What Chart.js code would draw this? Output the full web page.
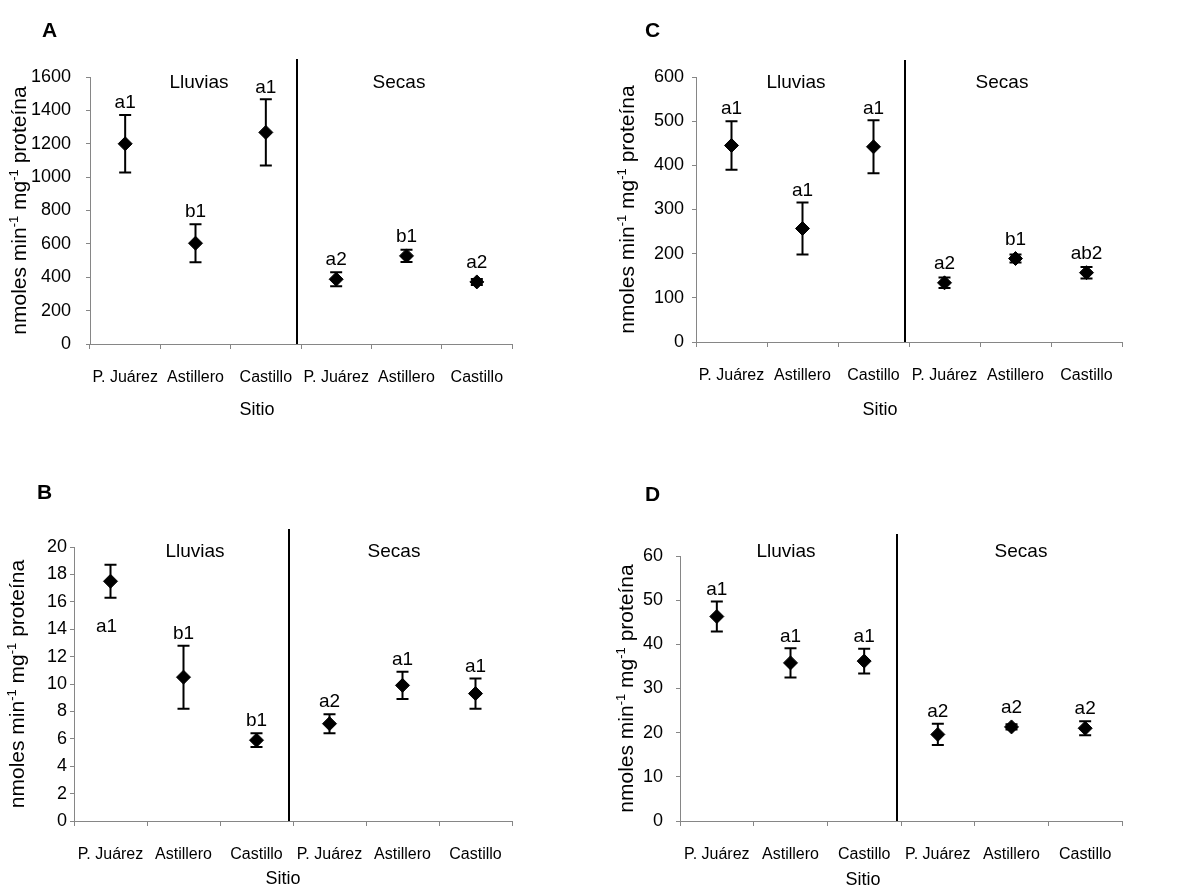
<!DOCTYPE html>
<html>
<head>
<meta charset="utf-8">
<script src="https://cdn.jsdelivr.net/npm/chart.js@4.4.0/dist/chart.umd.min.js"></script>
<style>
  body { margin: 0; background: #fff; }
  #wrap { position: relative; width: 1200px; height: 888px; }
  .panel { position: absolute; width: 600px; height: 444px; }
</style>
</head>
<body>
<div id="wrap">
  <div class="panel" style="left:0;top:0"><canvas id="cA" width="600" height="444"></canvas></div>
  <div class="panel" style="left:600px;top:0"><canvas id="cC" width="600" height="444"></canvas></div>
  <div class="panel" style="left:0;top:444px"><canvas id="cB" width="600" height="444"></canvas></div>
  <div class="panel" style="left:600px;top:444px"><canvas id="cD" width="600" height="444"></canvas></div>
</div>
<script>
const sitios = ['P. Juárez', 'Astillero', 'Castillo'];
const epocas = ['Lluvias', 'Secas'];

// panel A
const mediaA = [1200, 604, 1268, 388, 528, 372];
const errorA = [173, 114, 198, 42, 37, 18];
const letrasA = ['a1', 'b1', 'a1', 'a2', 'b1', 'a2'];
const ejeA = [1600, 200];

// panel B
const mediaB = [17.5, 10.5, 5.9, 7.1, 9.9, 9.3];
const errorB = [1.2, 2.3, 0.5, 0.7, 1.0, 1.1];
const letrasB = ['a1', 'b1', 'b1', 'a2', 'a1', 'a1'];
const ejeB = [20, 2];

// panel C
const mediaC = [445, 257, 442, 134, 189, 157];
const errorC = [55, 59, 60, 12, 9, 13];
const letrasC = ['a1', 'a1', 'a1', 'a2', 'b1', 'ab2'];
const ejeC = [600, 100];

// panel D
const mediaD = [46.3, 35.8, 36.2, 19.6, 21.3, 21.0];
const errorD = [3.4, 3.3, 2.8, 2.4, 0.6, 1.6];
const letrasD = ['a1', 'a1', 'a1', 'a2', 'a2', 'a2'];
const ejeD = [60, 10];

const fam = '"Liberation Sans", Arial, sans-serif';
const gris = '#868686';

const paneles = [
  { id: 'cA', letra: 'A', media: mediaA, error: errorA, letras: letrasA, eje: ejeA,
    area: { left: 90, top: 77, right: 512, bottom: 344 }, tickPad: 15, letraPos: [42, 31],
    sitio: [257, 410], tituloX: 20, epocaX: [199, 399], epocaY: 83, lineaTop: 18, abajo: [] },
  { id: 'cC', letra: 'C', media: mediaC, error: errorC, letras: letrasC, eje: ejeC,
    area: { left: 96, top: 77, right: 522, bottom: 342 }, tickPad: 8, letraPos: [45, 31],
    sitio: [280, 410], tituloX: 28, epocaX: [196, 402], epocaY: 83, lineaTop: 17, abajo: [] },
  { id: 'cB', letra: 'B', media: mediaB, error: errorB, letras: letrasB, eje: ejeB,
    area: { left: 74, top: 103, right: 512, bottom: 377 }, tickPad: 3, letraPos: [37, 49],
    sitio: [283, 435], tituloX: 18, epocaX: [195, 394], epocaY: 108, lineaTop: 18, abajo: [0] },
  { id: 'cD', letra: 'D', media: mediaD, error: errorD, letras: letrasD, eje: ejeD,
    area: { left: 80, top: 112, right: 522, bottom: 377 }, tickPad: 13, letraPos: [45, 51],
    sitio: [263, 436], tituloX: 27, epocaX: [186, 421], epocaY: 108, lineaTop: 22, abajo: [] }
];

function extras(p) {
  return {
    id: 'extras',
    beforeDatasetsDraw(chart) {
      const ctx = chart.ctx, x = chart.scales.x, y = chart.scales.y;
      ctx.save();
      ctx.strokeStyle = '#000';
      ctx.lineWidth = 2;
      p.media.forEach((v, i) => {
        const px = x.getPixelForValue(i);
        const hi = y.getPixelForValue(v + p.error[i]);
        const lo = y.getPixelForValue(v - p.error[i]);
        ctx.beginPath();
        ctx.moveTo(px, hi); ctx.lineTo(px, lo);
        ctx.moveTo(px - 6, hi); ctx.lineTo(px + 6, hi);
        ctx.moveTo(px - 6, lo); ctx.lineTo(px + 6, lo);
        ctx.stroke();
      });
      ctx.restore();
    },
    afterDatasetsDraw(chart) {
      const ctx = chart.ctx, x = chart.scales.x, y = chart.scales.y, ca = chart.chartArea;
      ctx.save();
      ctx.fillStyle = '#000';

      // letras de significancia
      ctx.font = '19px ' + fam;
      ctx.textAlign = 'center';
      ctx.textBaseline = 'middle';
      p.media.forEach((v, i) => {
        const px = x.getPixelForValue(i);
        const py = y.getPixelForValue(v);
        if (p.abajo.includes(i)) {
          const lo = Math.max(y.getPixelForValue(v - p.error[i]), py + 7);
          ctx.fillText(p.letras[i], px - 4, lo + 29);
        } else {
          const hi = Math.min(y.getPixelForValue(v + p.error[i]), py - 7);
          ctx.fillText(p.letras[i], px, hi - 12);
        }
      });

      // separador de epocas
      const xs = (x.getPixelForValue(2) + x.getPixelForValue(3)) / 2 - 4;
      ctx.strokeStyle = '#000';
      ctx.lineWidth = 2;
      ctx.beginPath();
      ctx.moveTo(xs, ca.top - p.lineaTop);
      ctx.lineTo(xs, ca.bottom);
      ctx.stroke();

      ctx.fillText(epocas[0], p.epocaX[0], p.epocaY);
      ctx.fillText(epocas[1], p.epocaX[1], p.epocaY);

      // letra del panel
      ctx.font = 'bold 21px ' + fam;
      ctx.textAlign = 'left';
      ctx.fillText(p.letra, p.letraPos[0], p.letraPos[1]);

      // titulo eje x
      ctx.font = '18px ' + fam;
      ctx.textAlign = 'center';
      ctx.fillText('Sitio', p.sitio[0], p.sitio[1]);

      // titulo eje y con superindices
      const partes = [['nmoles min', 0], ['-1', 1], [' mg', 0], ['-1', 1], [' proteína', 0]];
      ctx.translate(p.tituloX, (ca.top + ca.bottom) / 2);
      ctx.rotate(-Math.PI / 2);
      let total = 0;
      partes.forEach(([t, s]) => {
        ctx.font = (s ? '13px ' : '21px ') + fam;
        total += ctx.measureText(t).width;
      });
      let cx = -total / 2;
      ctx.textAlign = 'left';
      partes.forEach(([t, s]) => {
        ctx.font = (s ? '13px ' : '21px ') + fam;
        ctx.fillText(t, cx, s ? -6 : 0);
        cx += ctx.measureText(t).width;
      });
      ctx.restore();
    }
  };
}

paneles.forEach(p => {
  new Chart(document.getElementById(p.id), {
    type: 'line',
    data: {
      labels: sitios.concat(sitios),
      datasets: [{
        data: p.media,
        showLine: false,
        pointStyle: 'rectRot',
        pointRadius: 7,
        pointHoverRadius: 7,
        backgroundColor: '#000',
        borderColor: '#000',
        borderWidth: 1
      }]
    },
    options: {
      responsive: false,
      animation: false,
      events: [],
      layout: { padding: { left: 0, top: p.area.top, right: 600 - p.area.right, bottom: 0 } },
      plugins: { legend: { display: false }, tooltip: { enabled: false } },
      scales: {
        x: {
          offset: true,
          grid: { offset: true, drawOnChartArea: false, tickLength: 5, color: gris },
          border: { color: gris },
          ticks: { autoSkip: false, maxRotation: 0, padding: 19, color: '#000', font: { family: fam, size: 16 } },
          afterFit(s) { s.height = 444 - p.area.bottom; }
        },
        y: {
          min: 0,
          max: p.eje[0],
          grid: { drawOnChartArea: false, tickLength: 4, color: gris },
          border: { color: gris },
          ticks: {
            stepSize: p.eje[1], padding: p.tickPad, color: '#000',
            font: { family: fam, size: 18 },
            callback: v => String(v)
          },
          afterFit(s) { s.width = p.area.left; }
        }
      }
    },
    plugins: [extras(p)]
  });
});
</script>
</body>
</html>
